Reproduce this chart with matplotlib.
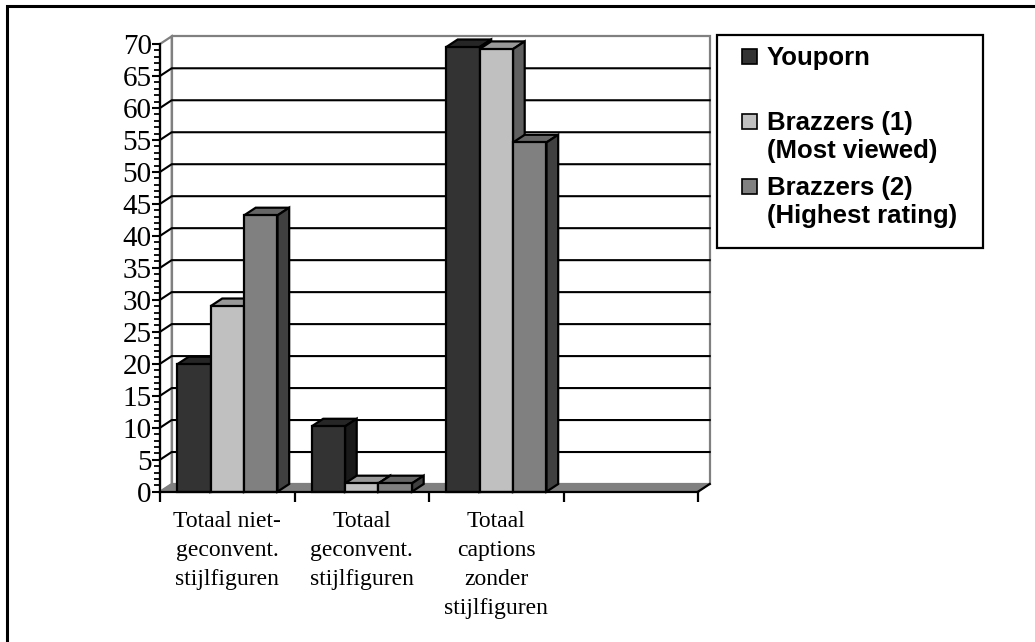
import numpy as np
import matplotlib.pyplot as plt
from matplotlib.patches import Polygon, Rectangle
from matplotlib.ticker import MultipleLocator, FixedLocator

categories = ['Totaal niet-\ngeconvent.\nstijlfiguren',
              'Totaal\ngeconvent.\nstijlfiguren',
              'Totaal\ncaptions\nzonder\nstijlfiguren',
              '']
series = ['Youporn', 'Brazzers (1)\n(Most viewed)', 'Brazzers (2)\n(Highest rating)']
youporn = [19.9, 10.2, 69.5]
brazzers_1 = [29.0, 1.3, 69.2]
brazzers_2 = [43.2, 1.3, 54.6]

# front, top, side
faces = [('#333333', '#262626', '#1a1a1a'),
         ('#c0c0c0', '#999999', '#606060'),
         ('#808080', '#666666', '#404040')]

W, H = 1035, 642
fig = plt.figure(figsize=(W / 100, H / 100), dpi=100)
ax = fig.add_axes([160 / W, 1 - 491.7 / H, 538 / W, 447.7 / H])
ax.set_xlim(-0.5, 3.5)
ax.set_ylim(0, 70)
ax.patch.set_visible(False)

# depth offset in data units
dx = 11.7 / 134.5
dy = 7.7 / (447.7 / 70)
x0, x1, top = -0.5, 3.5, 70
grey = '#808080'

# walls and floor
ax.add_patch(Polygon([(x0 + dx, dy), (x1 + dx, dy), (x1 + dx, top + dy), (x0 + dx, top + dy)],
                     closed=True, facecolor='white', edgecolor=grey, lw=1.6, zorder=0, clip_on=False))
ax.add_patch(Polygon([(x0, 0), (x0 + dx, dy), (x0 + dx, top + dy), (x0, top)],
                     closed=True, facecolor='white', edgecolor=grey, lw=1.6, zorder=0, clip_on=False))
ax.add_patch(Polygon([(x0, 0), (x1, 0), (x1 + dx, dy), (x0 + dx, dy)],
                     closed=True, facecolor=grey, edgecolor=grey, lw=1, zorder=1, clip_on=False))
ax.plot([x1, x1 + dx], [0, dy], color='black', lw=1.6, zorder=1, clip_on=False)

for v in range(5, 70, 5):
    ax.plot([x0, x0 + dx, x1 + dx], [v, v + dy, v + dy], color='black', lw=1.5, zorder=1,
            clip_on=False)

bw = 0.249
xs = np.arange(len(youporn))
for i, vals in enumerate([youporn, brazzers_1, brazzers_2]):
    front, topc, side = faces[i]
    pos = xs + (i - 1) * bw
    z = 3 + 2 * i
    for p, v in zip(pos, vals):
        l, r = p - bw / 2, p + bw / 2
        ax.add_patch(Polygon([(l, v), (r, v), (r + dx, v + dy), (l + dx, v + dy)], closed=True,
                             facecolor=topc, edgecolor='black', lw=1.6, zorder=z, clip_on=False))
        ax.add_patch(Polygon([(r, 0), (r + dx, dy), (r + dx, v + dy), (r, v)], closed=True,
                             facecolor=side, edgecolor='black', lw=1.6, zorder=z, clip_on=False))
    ax.bar(pos, vals, width=bw, color=front, edgecolor='black', lw=1.6, zorder=z + 1,
           clip_on=False)

for s in ['top', 'right']:
    ax.spines[s].set_visible(False)
ax.spines['left'].set_linewidth(1.6)
ax.spines['bottom'].set_linewidth(1.6)
ax.spines['left'].set_zorder(10)
ax.spines['bottom'].set_zorder(10)

ax.yaxis.set_major_locator(MultipleLocator(5))
ax.yaxis.set_minor_locator(MultipleLocator(1))
ax.tick_params(axis='y', which='major', direction='out', length=5.5, width=1.5, pad=0.5,
               labelsize=21)
ax.tick_params(axis='y', which='minor', direction='out', length=4, width=1.3)
for t in ax.get_yticklabels():
    t.set_fontfamily('Liberation Serif')

ax.xaxis.set_major_locator(FixedLocator([-0.5, 0.5, 1.5, 2.5, 3.5]))
ax.xaxis.set_minor_locator(FixedLocator([0, 1, 2, 3]))
ax.set_xticklabels([], minor=False)
ax.set_xticklabels(categories, minor=True, fontfamily='Liberation Serif', fontsize=17,
                   linespacing=1.5)
ax.tick_params(axis='x', which='major', direction='out', length=7.5, width=1.6)
ax.tick_params(axis='x', which='minor', length=0, pad=14)

# overlay for frame and legend
ov = fig.add_axes([0, 0, 1, 1])
ov.set_xlim(0, W)
ov.set_ylim(H, 0)
ov.axis('off')
ov.plot([7, 7, W], [H, 6, 6], color='black', lw=2.2, solid_joinstyle='miter')
ov.add_patch(Rectangle((717, 35), 266, 213, facecolor='white', edgecolor='black', lw=1.6))
leg_y = [57, 122, 187]
for (front, _, _), name, y in zip(faces, series, leg_y):
    ov.add_patch(Rectangle((742, y - 8), 15, 15, facecolor=front, edgecolor='black', lw=1.2))
    ov.text(767, y - 11, name, fontfamily='Liberation Sans', fontweight='bold', fontsize=18.5,
            va='top', ha='left', linespacing=1.2)

fig.savefig('out.png', dpi=100)
